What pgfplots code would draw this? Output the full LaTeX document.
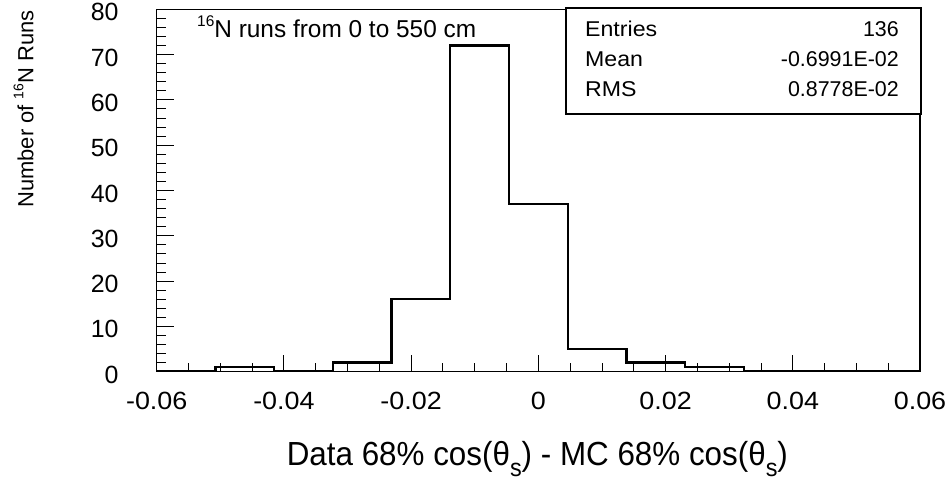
\documentclass[border=0pt]{standalone}
\usepackage{fontspec}
\setmainfont{Liberation Sans}
\usepackage{pgfplots}
\usepackage{pgfplotstable}
\pgfplotsset{compat=1.18}
\pgfplotstableread{
edge count
-0.060000 0
-0.050769 1
-0.041538 0
-0.032308 2
-0.023077 16
-0.013846 72
-0.004615 37
0.004615 5
0.013846 2
0.023077 1
0.032308 0
0.041538 0
0.050769 0
0.060000 0
}\histdata
\newcommand{\subs}{{\fontsize{25}{27}\selectfont\raisebox{-11bp}{s}}}
\newcommand{\xt}[1]{{\fontsize{25}{28}\selectfont\scalebox{1.08}[1]{#1}}}
\newcommand{\yt}[1]{{\fontsize{25}{28}\selectfont #1}}
\begin{document}
\begin{tikzpicture}[x=1bp,y=1bp]
\useasboundingbox (0,0) rectangle (951,482);
\begin{axis}[
  at={(156.7bp,110.3bp)}, anchor=south west,
  width=763.3bp, height=362.4bp, scale only axis,
  xmin=-0.06, xmax=0.06, ymin=0, ymax=80,
  scaled x ticks=false,
  xtick={-0.06,-0.04,-0.02,0,0.02,0.04,0.06},
  xticklabels={\xt{-0.06},\xt{-0.04},\xt{-0.02},\xt{0},\xt{0.02},\xt{0.04},\xt{0.06}},
  ytick={0,10,20,30,40,50,60,70,80},
  yticklabels={\yt{0},\yt{10},\yt{20},\yt{30},\yt{40},\yt{50},\yt{60},\yt{70},\yt{80}},
  minor x tick num=3,
  minor y tick num=4,
  tick pos=left,
  tick align=inside,
  major tick length=17bp,
  minor tick length=9bp,
  axis line style={line width=1.1bp, black},
  major tick style={line width=0.9bp, black},
  minor tick style={line width=0.9bp, black},
  /pgf/number format/assume math mode=true,
  tick label style={font=\fontsize{25}{28}\selectfont, inner sep=0pt},
  xticklabel style={anchor=north, yshift=-5bp},
  yticklabel style={anchor=east, xshift=-13bp, yshift=-3bp},
  xticklabel shift=15bp,
  yticklabel shift=25bp,
  xlabel={\scalebox{0.94}[1]{Data 68\% cos(θ\subs) - MC 68\% cos(θ\subs)}},
  xlabel style={at={(axis description cs:0.4987,-0.2602)}, anchor=base, inner sep=0pt, font=\fontsize{33.5}{38}\selectfont},
  ylabel={Number of \raisebox{10bp}{\fontsize{14}{14}\selectfont 16}N Runs},
  ylabel style={at={(axis description cs:-0.1617,0.997)}, anchor=base east, inner sep=0pt, font=\fontsize{22}{24}\selectfont},
]
\addplot[const plot, line width=2.4bp, black] table[x=edge, y=count] {\histdata};
\end{axis}
\node[anchor=base west, inner sep=0pt, font=\fontsize{24.5}{28}\selectfont] at (197,444.3) {\raisebox{11bp}{\fontsize{15.5}{15}\selectfont 16}N runs from 0 to 550 cm};
\draw[line width=2.4bp, fill=white] (566,367.9) rectangle (920.7,473.7);
\begin{scope}[every node/.style={inner sep=0pt, font=\fontsize{21.5}{24}\selectfont}]
\node[anchor=base west] at (585,445) {\scalebox{1.08}[1]{Entries}};
\node[anchor=base east] at (899,445) {136};
\node[anchor=base west] at (585,415.3) {\scalebox{1.08}[1]{Mean}};
\node[anchor=base east] at (899,415.3) {-0.6991E-02};
\node[anchor=base west] at (585,385.3) {\scalebox{1.08}[1]{RMS}};
\node[anchor=base east] at (899,385.3) {0.8778E-02};
\end{scope}
\end{tikzpicture}
\end{document}
